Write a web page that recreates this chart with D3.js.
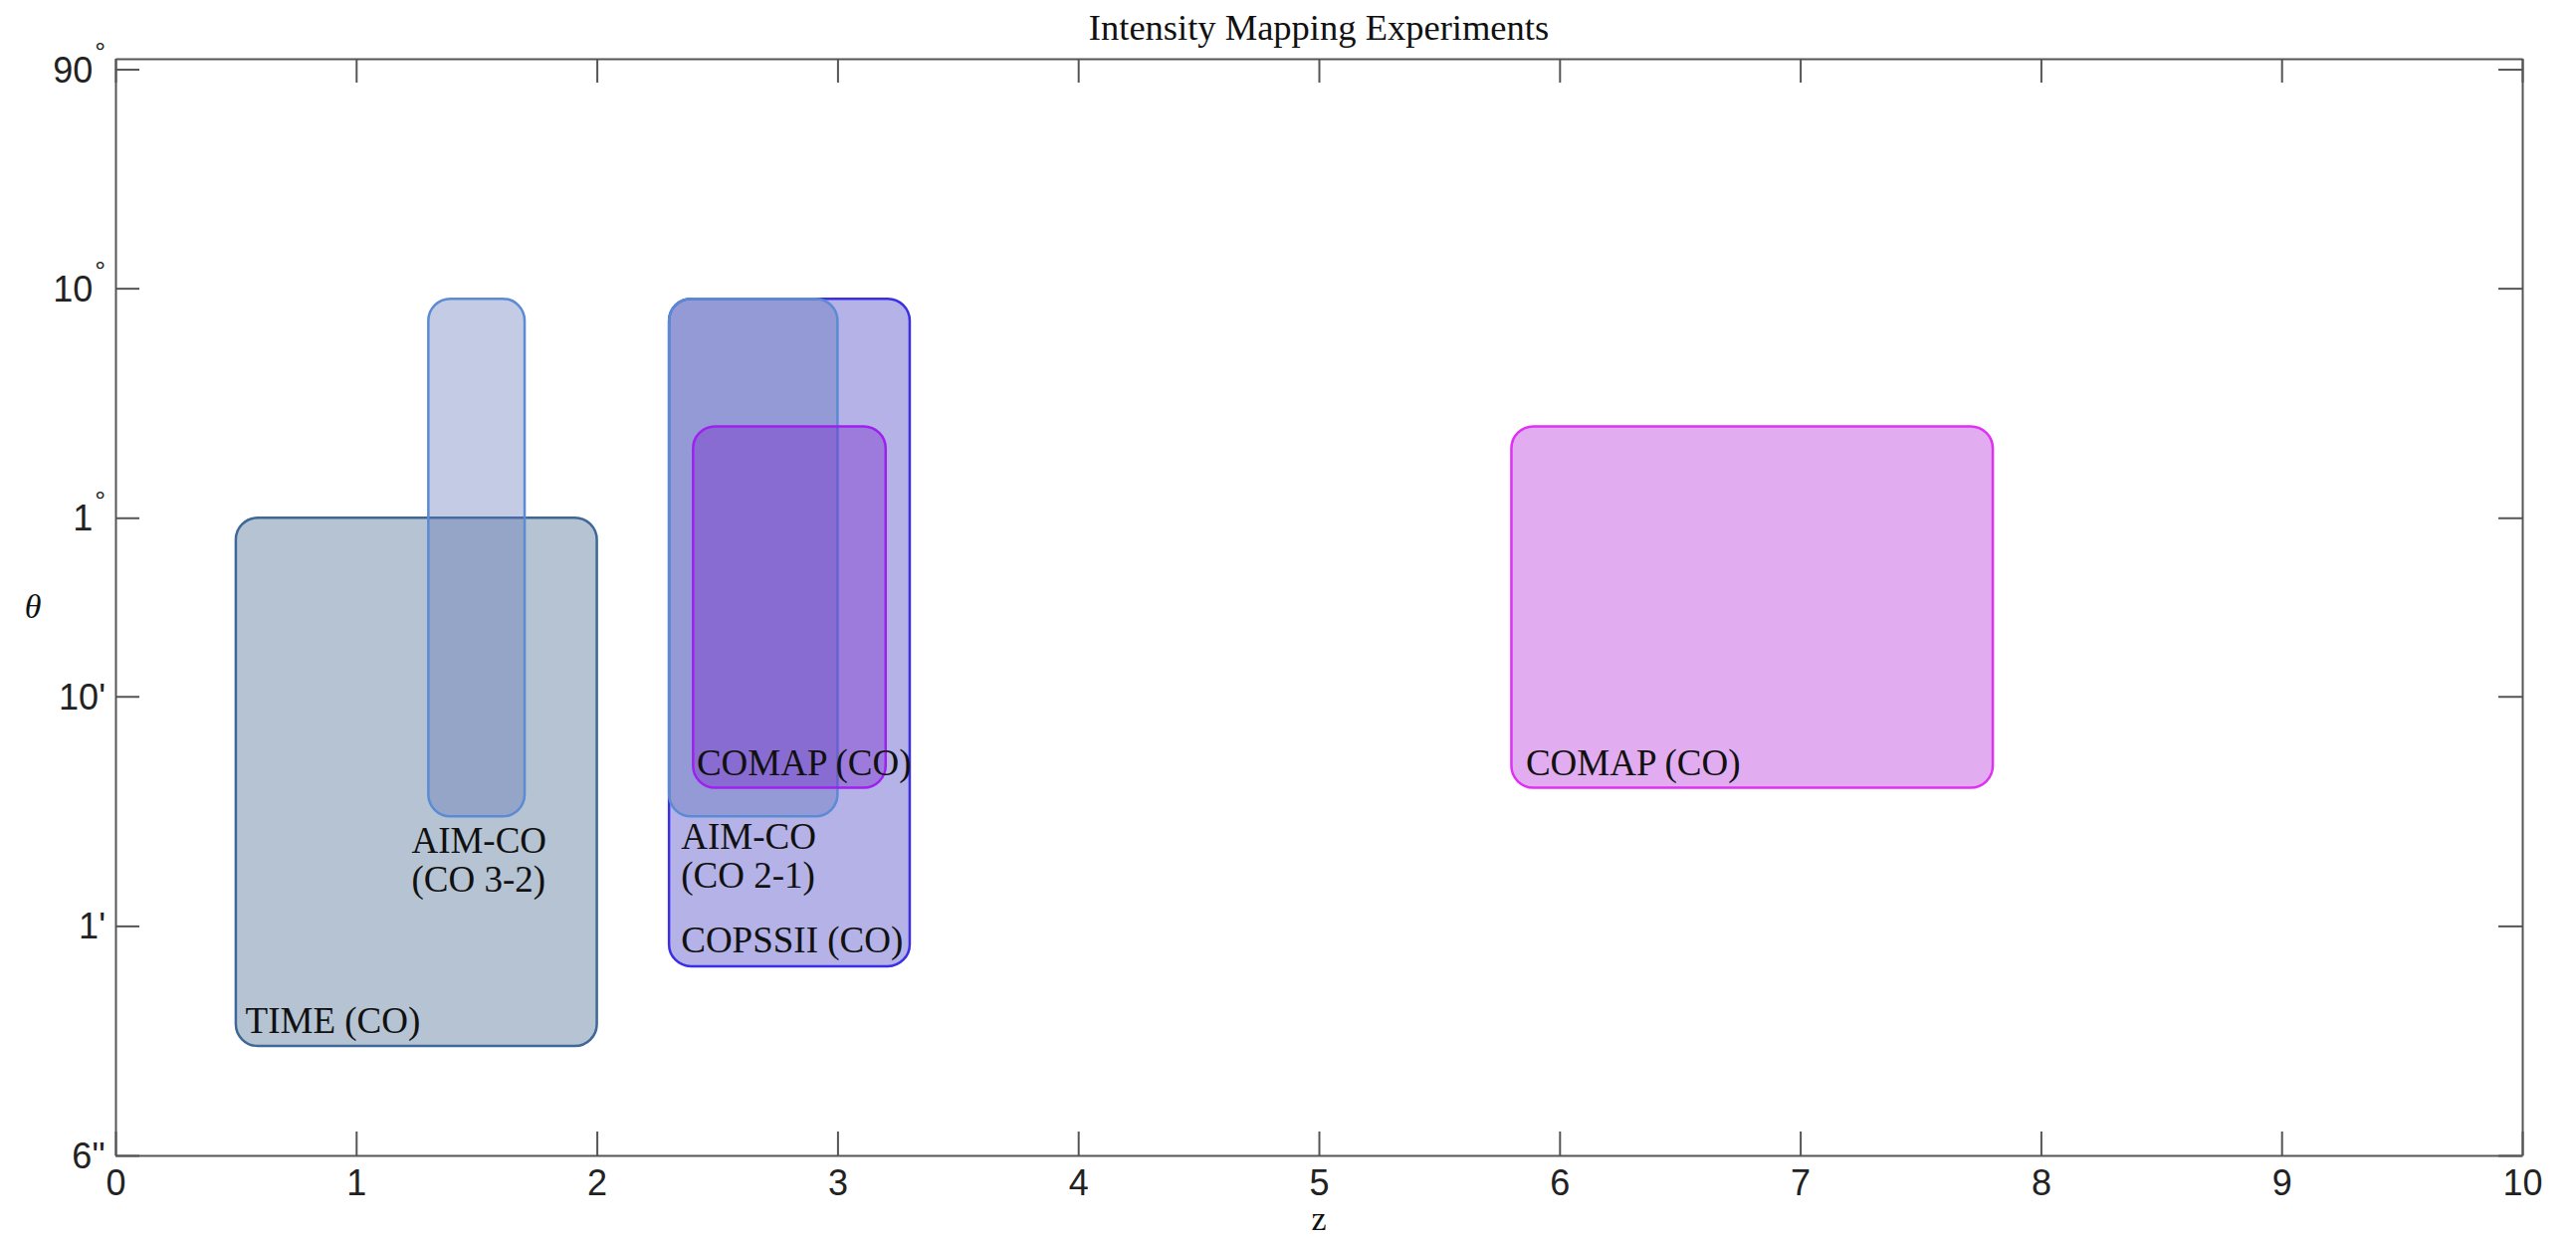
<!DOCTYPE html>
<html>
<head>
<meta charset="utf-8">
<script src="https://cdn.jsdelivr.net/npm/d3@7"></script>
<style>
  html, body { margin: 0; padding: 0; background: #fff; }
  svg { display: block; }
</style>
</head>
<body>
<svg id="chart" width="2588" height="1244"></svg>
<script>
// Survey coverage of line-intensity mapping experiments: redshift range vs angular scale.
// Angular values are in arcminutes.
const experiments = ["TIME (CO)", "AIM-CO (CO 3-2)", "COPSSII (CO)", "AIM-CO (CO 2-1)", "COMAP (CO)", "COMAP (CO)"];
const zMin = [0.5, 1.3, 2.3, 2.3, 2.4, 5.8];
const zMax = [2.0, 1.7, 3.3, 3.0, 3.2, 7.8];
const thetaMin = [0.3, 3, 0.667, 3, 4, 4];
const thetaMax = [60, 540, 540, 540, 150, 150];

// Text annotations (data coordinates of the first line's baseline)
const labelLines = [["TIME (CO)"], ["AIM-CO", "(CO 3-2)"], ["COPSSII (CO)"], ["AIM-CO", "(CO 2-1)"], ["COMAP (CO)"], ["COMAP (CO)"]];
const labelZ = [0.54, 1.23, 2.35, 2.35, 2.415, 5.86];
const labelTheta = [0.34, 2.08, 0.767, 2.17, 4.54, 4.54];

// Axis ticks
const xTicks = [0, 1, 2, 3, 4, 5, 6, 7, 8, 9, 10];
const yTickValues = [0.1, 1, 10, 60, 600, 5400];
const yTickNumbers = ["6", "1", "10", "1", "10", "90"];
const yTickUnits = ["''", "'", "'", "°", "°", "°"];

// Styling per experiment
const fills = ["rgb(50,90,130)", "rgb(93,115,185)", "rgb(68,63,193)", "rgb(93,115,185)", "rgb(120,40,205)", "rgb(180,48,218)"];
const fillOpacity = [0.36, 0.37, 0.4, 0.37, 0.4, 0.4];
const strokes = ["#3d6898", "#5b8bd4", "#3b2fe6", "#5b8bd4", "#a020f0", "#df30f4"];

const W = 2588, H = 1244;
const margin = { left: 116, right: W - 2534, top: 59, bottom: H - 1161 };
const svg = d3.select("#chart");

const x = d3.scaleLinear().domain([0, 10]).range([margin.left, W - margin.right]);
const y = d3.scaleLog().domain([0.1, 6000]).range([H - margin.bottom, margin.top]);

const serif = "'Liberation Serif', 'DejaVu Serif', serif";
const sans = "'Liberation Sans', Arial, sans-serif";

// Rectangles
const boxes = svg.append("g");
experiments.forEach((name, i) => {
  boxes.append("rect")
    .attr("x", x(zMin[i]))
    .attr("y", y(thetaMax[i]))
    .attr("width", x(zMax[i]) - x(zMin[i]))
    .attr("height", y(thetaMin[i]) - y(thetaMax[i]))
    .attr("rx", 22).attr("ry", 22)
    .attr("fill", fills[i])
    .attr("fill-opacity", fillOpacity[i])
    .attr("stroke", strokes[i])
    .attr("stroke-width", 2.5);
});

// Labels
const labels = svg.append("g")
  .attr("font-family", serif)
  .attr("font-size", 37)
  .attr("fill", "#111");
experiments.forEach((name, i) => {
  const t = labels.append("text")
    .attr("x", x(labelZ[i]))
    .attr("y", y(labelTheta[i]));
  labelLines[i].forEach((line, j) => {
    t.append("tspan")
      .attr("x", x(labelZ[i]))
      .attr("dy", j === 0 ? 0 : 39)
      .text(line);
  });
});

// Axes
const axisColor = "#555";
function styleAxis(g) {
  g.select(".domain").attr("stroke", axisColor).attr("stroke-width", 2);
  g.selectAll(".tick line").attr("stroke", axisColor).attr("stroke-width", 2);
  g.selectAll(".tick text").attr("fill", "#222");
}

const xBottom = svg.append("g")
  .attr("transform", `translate(0,${H - margin.bottom})`)
  .call(d3.axisBottom(x).tickValues(xTicks).tickSizeInner(-24).tickSizeOuter(0).tickPadding(14).tickFormat(d3.format("d")))
  .call(styleAxis);
xBottom.selectAll(".tick text").attr("font-family", sans).attr("font-size", 36);

svg.append("g")
  .attr("transform", `translate(0,${margin.top})`)
  .call(d3.axisTop(x).tickValues(xTicks).tickSizeInner(-24).tickSizeOuter(0).tickFormat(""))
  .call(styleAxis);

svg.append("g")
  .attr("transform", `translate(${margin.left},0)`)
  .call(d3.axisLeft(y).tickValues(yTickValues).tickSizeInner(-24).tickSizeOuter(0).tickFormat(""))
  .call(styleAxis);

svg.append("g")
  .attr("transform", `translate(${W - margin.right},0)`)
  .call(d3.axisRight(y).tickValues(yTickValues).tickSizeInner(-24).tickSizeOuter(0).tickFormat(""))
  .call(styleAxis);

// Y tick labels with angular units
const yLabels = svg.append("g").attr("font-family", sans).attr("font-size", 36).attr("fill", "#222");
yTickValues.forEach((v, i) => {
  const t = yLabels.append("text")
    .attr("x", margin.left - 10)
    .attr("y", y(v))
    .attr("dy", "0.36em")
    .attr("text-anchor", "end");
  t.append("tspan").text(yTickNumbers[i]);
  if (yTickUnits[i] === "°") {
    t.append("tspan").attr("font-size", 27).attr("dx", 2).attr("dy", "-0.75em").text("°");
  } else {
    t.append("tspan").text(yTickUnits[i]);
  }
});

// Title and axis titles
svg.append("text")
  .attr("x", (x(0) + x(10)) / 2)
  .attr("y", 40)
  .attr("text-anchor", "middle")
  .attr("font-family", serif)
  .attr("font-size", 36.5)
  .attr("fill", "#111")
  .text("Intensity Mapping Experiments");

svg.append("text")
  .attr("x", (x(0) + x(10)) / 2)
  .attr("y", 1236)
  .attr("text-anchor", "middle")
  .attr("font-family", serif)
  .attr("font-size", 34)
  .attr("fill", "#111")
  .text("z");

svg.append("text")
  .attr("x", 33)
  .attr("y", 621)
  .attr("text-anchor", "middle")
  .attr("font-family", serif)
  .attr("font-style", "italic")
  .attr("font-size", 34)
  .attr("fill", "#111")
  .text("θ");
</script>
</body>
</html>
